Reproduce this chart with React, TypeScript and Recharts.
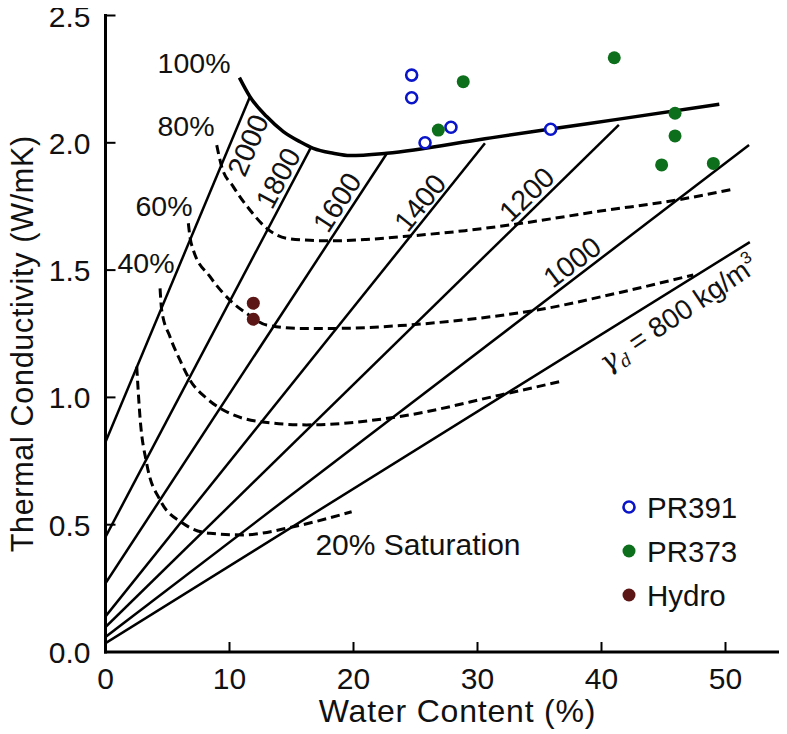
import React from 'react';
import { ComposedChart, Line, Scatter, XAxis, YAxis, Legend } from 'recharts';

const FONT = '"Liberation Sans", Arial, Helvetica, sans-serif';
const INK = '#111';

// dry density lines (kg/m3): conductivity at 0 % water and at the upper end
const densities = [2000, 1800, 1600, 1400, 1200, 1000, 800];
const densityK0 = [0.825, 0.452, 0.27, 0.14, 0.098, 0.059, 0.035];
const densityEndW = [11.65, 16.6, 22.7, 30.6, 41.4, 51.9, 51.96];
const densityEndK = [2.181, 1.985, 1.959, 1.998, 2.07, 1.991, 1.61];

// degree of saturation curves
const sat100W = [10.8, 11.65, 13.0, 14.34, 15.69, 16.76, 18.37, 19.72, 22.68, 30.6, 35.9, 41.4, 49.5];
const sat100K = [2.256, 2.181, 2.103, 2.044, 2.004, 1.978, 1.959, 1.95, 1.959, 2.016, 2.054, 2.093, 2.151];

const sat80W = [8.97, 9.37, 10.3, 11.65, 13.0, 14.6, 16.5, 18.37, 21.0, 24.56, 29.0, 33.16, 39.9, 46.06, 50.5];
const sat80K = [1.991, 1.906, 1.828, 1.736, 1.664, 1.625, 1.617, 1.615, 1.62, 1.634, 1.655, 1.681, 1.732, 1.775, 1.817];

const sat60W = [6.68, 6.81, 7.08, 8.43, 10.3, 11.39, 13.0, 15.69, 18.37, 23.75, 29.0, 34.8, 41.2, 47.4];
const sat60K = [1.684, 1.631, 1.579, 1.474, 1.37, 1.33, 1.284, 1.271, 1.271, 1.282, 1.305, 1.343, 1.409, 1.481];

const sat40W = [4.4, 4.53, 5.2, 6.0, 6.81, 8.16, 10.04, 12.46, 16.2, 23.75, 31.8, 36.65];
const sat40K = [1.428, 1.343, 1.238, 1.147, 1.068, 0.996, 0.937, 0.905, 0.892, 0.925, 1.009, 1.062];

const sat20W = [2.52, 2.78, 3.32, 4.4, 6.27, 8.43, 11.11, 15.15, 19.85];
const sat20K = [1.121, 0.924, 0.741, 0.597, 0.505, 0.466, 0.46, 0.492, 0.551];

// measured samples: water content (%) and conductivity (W/mK)
const pr391W = [24.69, 24.69, 25.77, 27.86, 35.9];
const pr391K = [2.266, 2.177, 2.0, 2.061, 2.053];
const pr373W = [28.85, 26.84, 41.03, 45.93, 45.93, 44.85, 49.02];
const pr373K = [2.24, 2.05, 2.334, 2.116, 2.027, 1.913, 1.919];
const hydroW = [11.92, 11.92];
const hydroK = [1.37, 1.307];

const xTicks = [0, 10, 20, 30, 40, 50];
const yTicks = [0, 0.5, 1.0, 1.5, 2.0, 2.5];

const legendNames = ['PR391', 'PR373', 'Hydro'];
const legendColors = ['#0a14c8', '#0d6e1c', '#5c1616'];
const legendOpen = [true, false, false];

// text annotations placed in data space (angle in degrees)
const curveNotes = [
  { x: 7.14, y: 2.313, text: '100%', angle: 0, size: 28.5 },
  { x: 6.49, y: 2.066, text: '80%', angle: 0, size: 28.5 },
  { x: 4.72, y: 1.752, text: '60%', angle: 0, size: 28.5 },
  { x: 3.27, y: 1.528, text: '40%', angle: 0, size: 28.5 },
  { x: 25.2, y: 0.42, text: '20% Saturation', angle: 0, size: 30 },
  { x: 11.49, y: 1.991, text: '2000', angle: -67, size: 28.5 },
  { x: 13.91, y: 1.862, text: '1800', angle: -62, size: 28.5 },
  { x: 18.67, y: 1.767, text: '1600', angle: -57, size: 28.5 },
  { x: 25.36, y: 1.765, text: '1400', angle: -51, size: 28.5 },
  { x: 33.97, y: 1.798, text: '1200', angle: -44, size: 28.5 },
  { x: 37.62, y: 1.532, text: '1000', angle: -37, size: 28.5 },
];
const gammaNote = [{ x: 46.17, y: 1.332, angle: -34 }];

const pts = (xs: number[], ys: number[]) => xs.map((x, i) => ({ x, y: ys[i] }));

const densityLines = densities.map((d, i) => ({
  name: `${d}`,
  data: [
    { x: 0, y: densityK0[i] },
    { x: densityEndW[i], y: densityEndK[i] },
  ],
}));

const dashedCurves = [
  { name: '80%', data: pts(sat80W, sat80K) },
  { name: '60%', data: pts(sat60W, sat60K) },
  { name: '40%', data: pts(sat40W, sat40K) },
  { name: '20%', data: pts(sat20W, sat20K) },
];

const BottomTick = ({ x, y, payload }: any) => (
  <g>
    <line x1={x} x2={x} y1={y} y2={y - 10} stroke="#000" strokeWidth={2} />
    <text x={x} y={y + 37} textAnchor="middle" fontSize={30} fontFamily={FONT} fill={INK}>
      {payload.value}
    </text>
  </g>
);

const LeftTick = ({ x, y, payload }: any) => (
  <g>
    <line x1={x} x2={x + 10} y1={y} y2={y} stroke="#000" strokeWidth={2} />
    <text x={x - 15} y={y + 11} textAnchor="end" fontSize={30} fontFamily={FONT} fill={INK}>
      {Number(payload.value).toFixed(1)}
    </text>
  </g>
);

const TopTick = ({ x, y }: any) => <line x1={x} x2={x} y1={y} y2={y + 10} stroke="#000" strokeWidth={2} />;
const RightTick = ({ x, y }: any) => <line x1={x} x2={x - 10} y1={y} y2={y} stroke="#000" strokeWidth={2} />;

const XTitle = ({ viewBox }: any) => (
  <text
    x={viewBox.x + 352}
    y={viewBox.y + 70}
    textAnchor="middle"
    fontSize={32}
    letterSpacing={0.8}
    fontFamily={FONT}
    fill={INK}
  >
    Water Content (%)
  </text>
);

const YTitle = ({ viewBox }: any) => {
  const cx = 33;
  const cy = viewBox.y + viewBox.height / 2 + 10;
  return (
    <text
      x={cx}
      y={cy}
      transform={`rotate(-90 ${cx} ${cy})`}
      textAnchor="middle"
      fontSize={30.5}
      letterSpacing={0.7}
      fontFamily={FONT}
      fill={INK}
    >
      Thermal Conductivity (W/mK)
    </text>
  );
};

const NoteShape = ({ cx, cy, payload }: any) => (
  <text
    x={cx}
    y={cy}
    dy={10}
    textAnchor="middle"
    fontSize={payload.size}
    fontFamily={FONT}
    fill={INK}
    transform={payload.angle ? `rotate(${payload.angle} ${cx} ${cy})` : undefined}
  >
    {payload.text}
  </text>
);

const GammaShape = ({ cx, cy, payload }: any) => (
  <text
    x={cx}
    y={cy}
    dy={10}
    textAnchor="middle"
    fontSize={28}
    fontFamily={FONT}
    fill={INK}
    transform={`rotate(${payload.angle} ${cx} ${cy})`}
  >
    <tspan fontFamily='"DejaVu Serif", serif' fontStyle="italic">γ</tspan>
    <tspan fontFamily='"DejaVu Serif", serif' fontStyle="italic" fontSize={17} dy={6}>d</tspan>
    <tspan dy={-6}> = 800 kg/m</tspan>
    <tspan fontSize={17} dy={-12}>3</tspan>
  </text>
);

const ring = (color: string) => ({ cx, cy }: any) => (
  <circle cx={cx} cy={cy} r={5.5} fill="#fff" stroke={color} strokeWidth={2.6} />
);
const dot = (color: string) => ({ cx, cy }: any) => <circle cx={cx} cy={cy} r={6.5} fill={color} />;

const LegendBox = () => (
  <svg width={170} height={130}>
    {legendNames.map((n, i) => (
      <g key={n}>
        {legendOpen[i] ? (
          <circle cx={11} cy={22 + i * 44} r={5.5} fill="#fff" stroke={legendColors[i]} strokeWidth={2.6} />
        ) : (
          <circle cx={11} cy={22 + i * 44} r={6.5} fill={legendColors[i]} />
        )}
        <text x={29} y={22 + i * 44 + 10.5} fontSize={29.5} fontFamily={FONT} fill={INK}>
          {n}
        </text>
      </g>
    ))}
  </svg>
);

export default function App() {
  return (
    <div style={{ width: 787, height: 734, overflow: 'hidden', margin: '-8px 0 0 -8px' }}>
      <ComposedChart width={808} height={734} margin={{ top: 15.5, right: 20.5, bottom: 0, left: 0 }}>
        <XAxis
          dataKey="x"
          type="number"
          domain={[0, 55]}
          allowDataOverflow
          ticks={xTicks}
          height={82}
          tickSize={0}
          tickMargin={0}
          tickLine={false}
          axisLine={{ stroke: '#000', strokeWidth: 3, strokeLinecap: 'square' }}
          tick={<BottomTick />}
          label={<XTitle />}
        />
        <XAxis
          xAxisId="top"
          orientation="top"
          type="number"
          domain={[0, 55]}
          allowDataOverflow
          ticks={[10, 20, 30, 40, 50]}
          height={0}
          tickSize={0}
          tickMargin={0}
          tickLine={false}
          axisLine={{ stroke: '#000', strokeWidth: 3, strokeLinecap: 'square' }}
          tick={<TopTick />}
        />
        <YAxis
          dataKey="y"
          type="number"
          domain={[0, 2.5]}
          allowDataOverflow
          ticks={yTicks}
          width={105.5}
          tickSize={0}
          tickMargin={0}
          tickLine={false}
          axisLine={{ stroke: '#000', strokeWidth: 3, strokeLinecap: 'square' }}
          tick={<LeftTick />}
          label={<YTitle />}
        />
        <YAxis
          yAxisId="right"
          orientation="right"
          type="number"
          domain={[0, 2.5]}
          allowDataOverflow
          ticks={[0.5, 1.0, 1.5, 2.0]}
          width={0}
          tickSize={0}
          tickMargin={0}
          tickLine={false}
          axisLine={{ stroke: '#000', strokeWidth: 3 }}
          tick={<RightTick />}
        />

        {densityLines.map((l) => (
          <Line
            key={l.name}
            data={l.data}
            dataKey="y"
            type="linear"
            stroke="#000"
            strokeWidth={2.5}
            dot={false}
            activeDot={false}
            legendType="none"
            isAnimationActive={false}
          />
        ))}
        <Line
          data={pts(sat100W, sat100K)}
          dataKey="y"
          type="monotone"
          stroke="#000"
          strokeWidth={3.5}
          dot={false}
          activeDot={false}
          legendType="none"
          isAnimationActive={false}
        />
        {dashedCurves.map((c) => (
          <Line
            key={c.name}
            data={c.data}
            dataKey="y"
            type="monotone"
            stroke="#000"
            strokeWidth={3}
            strokeDasharray="9 5"
            dot={false}
            activeDot={false}
            legendType="none"
            isAnimationActive={false}
          />
        ))}

        <Scatter data={pts(pr391W, pr391K)} shape={ring(legendColors[0])} isAnimationActive={false} />
        <Scatter data={pts(pr373W, pr373K)} shape={dot(legendColors[1])} isAnimationActive={false} />
        <Scatter data={pts(hydroW, hydroK)} shape={dot(legendColors[2])} isAnimationActive={false} />

        <Scatter data={curveNotes} shape={<NoteShape />} isAnimationActive={false} legendType="none" />
        <Scatter data={gammaNote} shape={<GammaShape />} isAnimationActive={false} legendType="none" />

        <Legend
          layout="vertical"
          align="center"
          verticalAlign="middle"
          content={<LegendBox />}
          wrapperStyle={{ position: 'absolute', left: 618, top: 485, width: 170, height: 130 }}
        />
      </ComposedChart>
    </div>
  );
}
